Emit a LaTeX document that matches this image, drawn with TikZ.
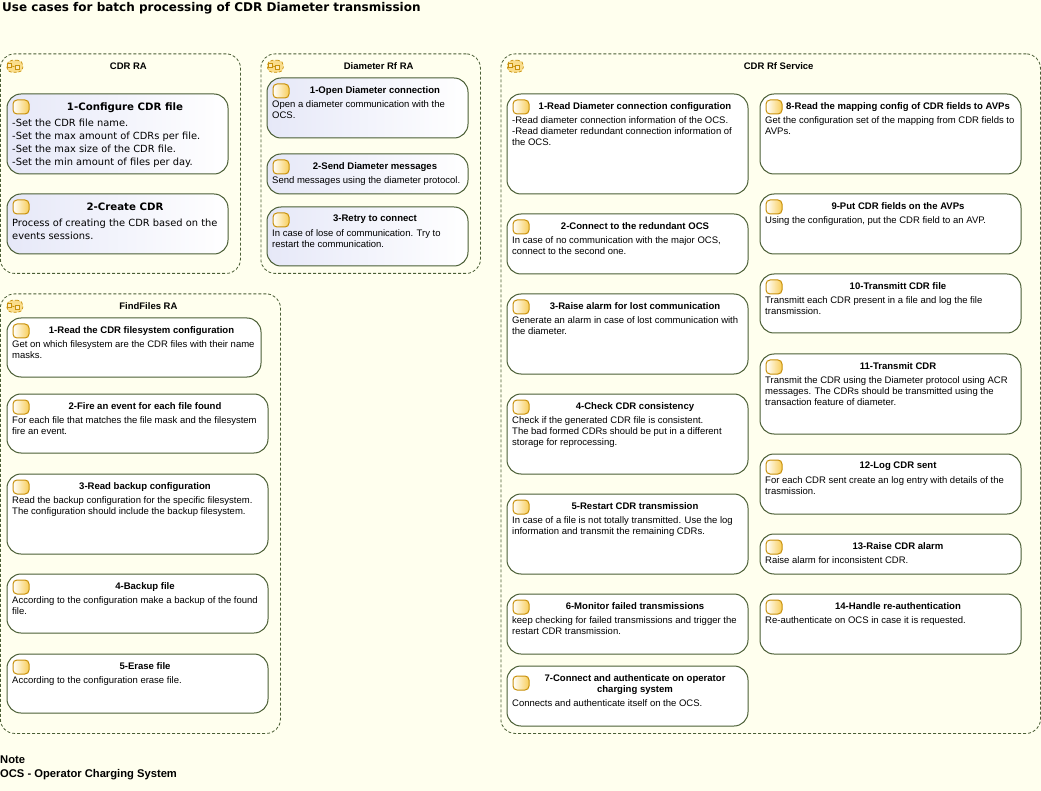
\documentclass[tikz,border=0pt]{standalone}
\usepackage{fontspec}
\setmainfont{Liberation Sans}
\newfontfamily\dejavu{DejaVu Sans}
\usetikzlibrary{shapes,arrows,positioning}

\definecolor{pagebg}{HTML}{FFFFEE}
\definecolor{lineolive}{HTML}{4A5E35}
\definecolor{iconedge}{HTML}{C8900A}
\definecolor{iconfill}{HTML}{F8CE5A}
\definecolor{shadeblue}{HTML}{E6E8F8}

\tikzset{
  groupbox/.style={draw=lineolive, densely dashed, line width=0.8pt, rounded corners=14pt,
    anchor=north west, inner sep=0pt, fill=pagebg},
  plainbox/.style={draw=lineolive, line width=1pt, rounded corners=14pt,
    anchor=north west, inner sep=0pt, fill=white},
  shadedbox/.style={plainbox, left color=shadeblue, right color=white},
  boxicon/.style={draw=iconedge, line width=1pt, rounded corners=4pt, minimum width=16pt,
    minimum height=14pt, inner sep=0pt, left color=white, right color=iconfill},
  groupicon/.style={draw=iconedge, densely dashed, line width=0.7pt, rounded corners=5pt,
    minimum width=16pt, minimum height=12pt, inner sep=0pt, fill=iconfill!70!white},
  groupport/.style={draw=iconedge, line width=0.7pt, minimum width=4pt, minimum height=4pt,
    inner sep=0pt, fill=iconfill!40!white},
  grouptitle/.style={font=\fontsize{9.5}{11}\selectfont\bfseries, inner sep=0pt},
  caption/.style={font=\fontsize{9.55}{11}\selectfont\bfseries, inner sep=0pt, anchor=north,
    align=center},
  bodytext/.style={font=\fontsize{9.5}{11}\selectfont, inner sep=0pt, align=left},
  bigcaption/.style={font=\fontsize{10.2}{13}\selectfont\dejavu\bfseries, inner sep=0pt, anchor=north},
  bigtext/.style={font=\fontsize{9.87}{13}\selectfont\dejavu, inner sep=0pt, align=left},
  pagetitle/.style={font=\fontsize{12}{14}\selectfont\dejavu\bfseries, inner sep=0pt, anchor=west},
  pagenote/.style={font=\fontsize{11.2}{14}\selectfont\bfseries, inner sep=0pt, anchor=north west,
    align=left}
}

% #1 name, #2 x, #3 y, #4 width, #5 height, #6 title
\newcommand{\usegroup}[6]{
  \node[groupbox, minimum width=#4pt, minimum height=#5pt] (#1) at (#2,#3) {};
  \node[groupicon, below right=6.5pt and 6.5pt of #1.north west] (#1icon) {};
  \node[groupport] (#1a) at ([xshift=-5.5pt,yshift=1pt]#1icon.center) {};
  \node[groupport] (#1b) at ([xshift=2pt,yshift=-1pt]#1icon.center) {};
  \draw[iconedge, line width=0.7pt] (#1a) -- (#1b);
  \node[grouptitle] (#1title) at ([xshift=8pt,yshift=-12.5pt]#1.north) {#6};
}
% #1 name, #2 x, #3 y, #4 width, #5 height, #6 box style, #7 title, #8 text
\newcommand{\usecase}[8]{
  \node[#6, minimum width=#4pt, minimum height=#5pt] (#1) at (#2,#3) {};
  \node[boxicon, below right=6pt and 6pt of #1.north west] (#1icon) {};
  \node[caption] (#1title) at ([xshift=7.5pt,yshift=-8.5pt]#1.north) {#7};
  \node[bodytext, below right=23.3pt and 5.5pt of #1.north west] (#1text) {#8};
}

\begin{document}
\begin{tikzpicture}[x=1pt, y=-1pt]
    \path[use as bounding box, fill=pagebg] (0,0) rectangle (1041,791);

    \node[pagetitle] (title) at (2,8) {Use cases for batch processing of CDR Diameter transmission};

  \begin{scope}[shift={(-0.5,-0.5)}]
    % CDR RA
    \usegroup{cdr}{0.5}{54}{240}{219.5}{CDR RA}
    \node[shadedbox, minimum width=221pt, minimum height=80pt] (conf) at (7,94) {};
    \node[boxicon, below right=6pt and 6pt of conf.north west] (conficon) {};
    \node[bigcaption] (conftitle) at ([xshift=7.5pt,yshift=-9pt]conf.north) {1-Configure CDR file};
    \node[bigtext, below right=25pt and 5.5pt of conf.north west] (conftext)
      {-Set the CDR file name.\\-Set the max amount of CDRs per file.\\-Set the max size of the CDR file.\\-Set the min amount of files per day.};
    \node[shadedbox, minimum width=221pt, minimum height=60pt] (create) at (7,194) {};
    \node[boxicon, below right=6pt and 6pt of create.north west] (createicon) {};
    \node[bigcaption] (createtitle) at ([xshift=7.5pt,yshift=-9pt]create.north) {2-Create CDR};
    \node[bigtext, below right=25pt and 5.5pt of create.north west] (createtext)
      {Process of creating the CDR based on the\\events sessions.};

    % Diameter Rf RA
    \usegroup{dia}{261}{54}{219.5}{219.5}{Diameter Rf RA}
    \usecase{diaa}{267}{78}{201}{60}{shadedbox}{1-Open Diameter connection}{Open a diameter communication with the\\OCS.}
    \usecase{diab}{267}{154}{201}{40}{shadedbox}{2-Send Diameter messages}{Send messages using the diameter protocol.}
    \usecase{diac}{267}{207}{201}{59}{shadedbox}{3-Retry to connect}{In case of lose of communication. Try to\\restart the communication.}

    % FindFiles RA
    \usegroup{find}{0.5}{294}{280}{439.5}{FindFiles RA}
    \usecase{finda}{7}{318}{254}{59}{plainbox}{1-Read the CDR filesystem configuration}{Get on which filesystem are the CDR files with their name\\masks.}
    \usecase{findb}{7}{394}{261}{59}{plainbox}{2-Fire an event for each file found}{For each file that matches the file mask and the filesystem\\fire an event.}
    \usecase{findc}{7}{474}{261}{80}{plainbox}{3-Read backup configuration}{Read the backup configuration for the specific filesystem.\\The configuration should include the backup filesystem.}
    \usecase{findd}{7}{574}{261}{59}{plainbox}{4-Backup file}{According to the configuration make a backup of the found\\file.}
    \usecase{finde}{7}{654}{261}{59}{plainbox}{5-Erase file}{According to the configuration erase file.}

    % CDR Rf Service
    \usegroup{srv}{501}{54}{539.5}{679.5}{CDR Rf Service}
    \usecase{srva}{507}{94}{241}{100}{plainbox}{1-Read Diameter connection configuration}{-Read diameter connection information of the OCS.\\-Read diameter redundant connection information of\\the OCS.}
    \usecase{srvb}{507}{214}{241}{60}{plainbox}{2-Connect to the redundant OCS}{In case of no communication with the major OCS,\\connect to the second one.}
    \usecase{srvc}{507}{294}{241}{80}{plainbox}{3-Raise alarm for lost communication}{Generate an alarm in case of lost communication with\\the diameter.}
    \usecase{srvd}{507}{394}{241}{80}{plainbox}{4-Check CDR consistency}{Check if the generated CDR file is consistent.\\The bad formed CDRs should be put in a different\\storage for reprocessing.}
    \usecase{srve}{507}{494}{241}{80}{plainbox}{5-Restart CDR transmission}{In case of a file is not totally transmitted. Use the log\\information and transmit the remaining CDRs.}
    \usecase{srvf}{507}{594}{241}{60}{plainbox}{6-Monitor failed transmissions}{keep checking for failed transmissions and trigger the\\restart CDR transmission.}
    \node[plainbox, minimum width=241pt, minimum height=60pt] (srvg) at (507,666) {};
    \node[boxicon, below right=10pt and 6pt of srvg.north west] (srvgicon) {};
    \node[caption] (srvgtitle) at ([xshift=7.5pt,yshift=-8.5pt]srvg.north) {7-Connect and authenticate on operator\\charging system};
    \node[bodytext, below right=34pt and 5.5pt of srvg.north west] (srvgtext) {Connects and authenticate itself on the OCS.};

    \usecase{srvh}{760}{94}{261}{80}{plainbox}{8-Read the mapping config of CDR fields to AVPs}{Get the configuration set of the mapping from CDR fields to\\AVPs.}
    \usecase{srvi}{760}{194}{261}{60}{plainbox}{9-Put CDR fields on the AVPs}{Using the configuration, put the CDR field to an AVP.}
    \usecase{srvj}{760}{274}{261}{59}{plainbox}{10-Transmitt CDR file}{Transmitt each CDR present in a file and log the file\\transmission.}
    \usecase{srvk}{760}{354}{261}{80}{plainbox}{11-Transmit CDR}{Transmit the CDR using the Diameter protocol using ACR\\messages. The CDRs should be transmitted using the\\transaction feature of diameter.}
    \usecase{srvl}{760}{454}{261}{60}{plainbox}{12-Log CDR sent}{For each CDR sent create an log entry with details of the\\trasmission.}
    \usecase{srvm}{760}{534}{261}{40}{plainbox}{13-Raise CDR alarm}{Raise alarm for inconsistent CDR.}
    \usecase{srvn}{760}{594}{261}{60}{plainbox}{14-Handle re-authentication}{Re-authenticate on OCS in case it is requested.}
  \end{scope}

    \node[pagenote] (note) at (0,756) {Note\\OCS - Operator Charging System};
\end{tikzpicture}
\end{document}
